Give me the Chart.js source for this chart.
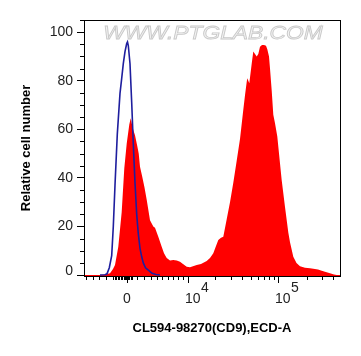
<!DOCTYPE html>
<html><head><meta charset="utf-8">
<script src="https://cdn.jsdelivr.net/npm/chart.js@4.4.1/dist/chart.umd.min.js"></script>
<style>html,body{margin:0;padding:0;background:#fff;}</style>
</head><body>
<canvas id="c" width="361" height="356" style="width:361px;height:356px;display:block"></canvas>
<script>
// x values are display channels of the biexponential axis (0 = zero intensity)
const redX = [-43,-27,-22,-17,-14,-12,-8.7,-5.3,-2.7,-0.3,2.3,3.7,5,6.3,8,10.3,11.7,13,15.3,17.5,19.7,23,26.3,28,31.3,34.7,37,39.7,43,46.3,49.7,53,56,59.7,63,66,69.7,74,79.7,83,86.3,89,91.3,94,96.3,99.7,103,106.3,109.7,113,116.3,118,119.7,120.3,121.3,122.3,124.7,126.3,128,129.7,131.3,133,135,137,139,140.3,142,143,144.7,146.3,148,150.3,152.5,154.7,158,161.3,163,166.3,169.5,173,178,183,186.3,191,194.7,198,203,207,209.7,213];
const redY = [0,0,0.2,0.7,2.5,4.1,11.6,26,44,54,62,64.5,62,59.7,57.6,53,50,44.6,40.4,36,31,22.6,20,19.5,15.8,11.6,9,7,6,6.2,6,5.5,4.5,3.4,3.2,3.6,4.1,4.5,5.8,7,9,12,14.4,15.3,15.8,23,30,38,47,56,68,74,79.5,81,80,79,87,92,91,90,91,94,94.7,94.7,94.4,93,90,85,76,66,62.5,57,48,39,28,17.5,13.5,7.5,5,3.6,3,2.8,2.6,2.3,1.8,1.3,0.7,0.2,0,0];
const blueX = [-27,-22,-20,-17.7,-15.3,-13.7,-12,-9.7,-7,-5.3,-3.7,-2,-0.3,0.5,1.3,3,4.7,6.3,8,9.7,11.3,13,14.7,16.3,18.5,21.3,25,29,33];
const blueY = [0,0.1,0.5,3,8,20,37,58,74.8,81,87,92,95.3,96,94.5,87,71,54,38,25,17,11,7.5,5,3,2,0.7,0.2,0];

const yTickValues = [0,20,40,60,80,100];
const yMinorTicks = [5,10,15,25,30,35,45,50,55,65,70,75,85,90,95,105];
const xTickValues = [0,61,151];
const xTickBase = ['0','10','10'];
const xTickExp = ['','4','5'];
const xMinorTicks = [-41,-34.5,-28,-21.5,-14,-12.5,-11,-9.5,-8,-6.5,-5,-3.5,-2,-1,1,2,3.5,5,10.3,17,23.7,29.7,35.3,40.7,45.7,50.7,55.7,88,104,115,124,131,137,142,147,180,195,206];

const xTitle = 'CL594-98270(CD9),ECD-A';
const yTitle = 'Relative cell number';
const watermark = 'WWW.PTGLAB.COM';

const FONT = '"Liberation Sans", Arial, sans-serif';

const decor = {
  id: 'decor',
  beforeDatasetsDraw(chart) {
    const {ctx, chartArea: a} = chart;
    ctx.save();
    ctx.translate((a.left + a.right) / 2 + 1, 34);
    ctx.scale(1.2, 1);
    ctx.font = 'italic 19px ' + FONT;
    ctx.textAlign = 'center';
    ctx.textBaseline = 'middle';
    ctx.fillStyle = '#f3f3f3';
    ctx.fillText(watermark, 0, 0);
    ctx.strokeStyle = '#c9c9c9';
    ctx.lineWidth = 0.8;
    ctx.strokeText(watermark, 0, 0);
    ctx.restore();
  },
  afterDraw(chart) {
    const {ctx, chartArea: a, scales: {x, y}} = chart;
    ctx.save();
    ctx.strokeStyle = '#000';
    ctx.lineWidth = 1;
    ctx.strokeRect(Math.round(a.left) + 0.5, Math.round(a.top) + 0.5, Math.round(a.right - a.left), Math.round(a.bottom - a.top));
    ctx.beginPath();
    yMinorTicks.forEach(v => {
      const py = Math.round(y.getPixelForValue(v)) + 0.5;
      ctx.moveTo(a.left - 4, py); ctx.lineTo(a.left, py);
    });
    xMinorTicks.forEach(v => {
      const px = Math.round(x.getPixelForValue(v)) + 0.5;
      ctx.moveTo(px, a.bottom); ctx.lineTo(px, a.bottom + 4);
    });
    ctx.stroke();
    ctx.fillStyle = '#222';
    ctx.font = '14px ' + FONT;
    // zero label of the y axis sits slightly above its tick, as in FlowJo
    ctx.textAlign = 'right';
    ctx.textBaseline = 'middle';
    ctx.fillText(String(yTickValues[0]), a.left - 11, y.getPixelForValue(yTickValues[0]) - 4);
    ctx.textBaseline = 'alphabetic';
    xTickValues.forEach((v, i) => {
      const px = x.getPixelForValue(v);
      if (!xTickExp[i]) {
        ctx.textAlign = 'center';
        ctx.fillText(xTickBase[i], px, 303);
      } else {
        ctx.textAlign = 'left';
        const l = px - 3;
        ctx.fillText(xTickBase[i], l, 303);
        ctx.fillText(xTickExp[i], l + ctx.measureText(xTickBase[i]).width + 0.5, 292);
      }
    });
    ctx.restore();
  }
};

new Chart(document.getElementById('c'), {
  type: 'line',
  data: {
    datasets: [
      {
        label: 'control',
        data: blueX.map((v, i) => ({x: v, y: blueY[i]})),
        borderColor: '#1e1e9e',
        borderWidth: 1.6,
        pointRadius: 0,
        fill: false,
        tension: 0
      },
      {
        label: 'CD9',
        data: redX.map((v, i) => ({x: v, y: redY[i]})),
        borderColor: '#ff0000',
        borderWidth: 0,
        backgroundColor: '#ff0000',
        pointRadius: 0,
        fill: 'start',
        tension: 0
      }
    ]
  },
  options: {
    responsive: false,
    animation: false,
    devicePixelRatio: 1,
    layout: {padding: {top: 20, right: 21, left: 0, bottom: 0}},
    plugins: {legend: {display: false}, tooltip: {enabled: false}},
    scales: {
      x: {
        type: 'linear',
        min: -43, max: 213,
        afterBuildTicks: s => { s.ticks = xTickValues.map(v => ({value: v})); },
        afterFit: s => { s.height = 80; },
        ticks: {callback: () => '', autoSkip: false},
        grid: {drawOnChartArea: false, drawTicks: true, tickLength: 7, tickColor: '#000'},
        border: {display: true, color: '#000'},
        title: {display: true, text: xTitle, color: '#000', font: {family: FONT, size: 13, weight: 'bold'}, padding: {top: 0, bottom: 20}}
      },
      y: {
        type: 'linear',
        min: -0.4, max: 105,
        afterBuildTicks: s => { s.ticks = yTickValues.map(v => ({value: v})); },
        afterFit: s => { s.width = 84; },
        ticks: {
          color: c => (c.tick && c.tick.value === 0) ? 'rgba(0,0,0,0)' : '#222',
          font: {family: FONT, size: 14}, padding: 4, autoSkip: false
        },
        grid: {drawOnChartArea: false, drawTicks: true, tickLength: 7, tickColor: '#000'},
        border: {display: true, color: '#000'},
        title: {display: true, text: yTitle, color: '#000', font: {family: FONT, size: 13, weight: 'bold'}, padding: {top: 19, bottom: 0}}
      }
    }
  },
  plugins: [decor]
});
</script>
</body></html>
